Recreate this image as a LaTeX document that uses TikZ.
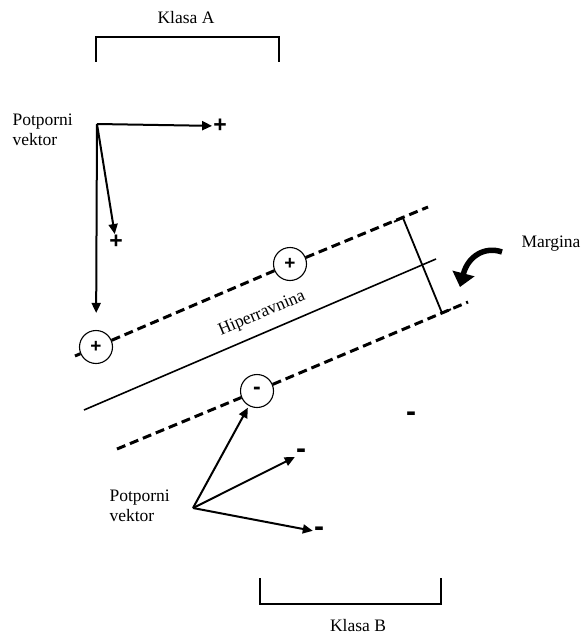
\documentclass[tikz,border=0pt]{standalone}
\usepackage{fontspec}
\setmainfont{Liberation Serif}
\setsansfont{Liberation Sans}
\usepackage{tikz}
\usetikzlibrary{arrows.meta,positioning,calc}

\begin{document}
\begin{tikzpicture}[x=1pt, y=-1pt, every node/.style={font=\fontsize{17.5}{20}\selectfont},
  vec/.style={line width=2pt,-{Triangle[length=10pt,width=9pt]}},
  brk/.style={line width=2pt},
  sv/.style={draw,circle,line width=1.1pt,minimum size=33pt,inner sep=0pt,font=\sffamily\bfseries\fontsize{19}{19}\selectfont},
  pt/.style={inner sep=1pt,font=\sffamily\bfseries\fontsize{23}{23}\selectfont},
  mn/.style={inner sep=1pt,font=\sffamily\bfseries\fontsize{30}{30}\selectfont},
  marg/.style={line width=3pt,dash pattern=on 9pt off 5pt}]
  \useasboundingbox (0,0) rectangle (582,634);

  % klase
  \node (ka) at (186,18) {Klasa A};
  \draw[brk] (96,62) -- (96,37) -- (279,37) -- (279,62);
  \node[anchor=base,inner sep=0pt] (kb) at (358,631) {Klasa B};
  \draw[brk] (260,578) -- (260,604) -- (441,604) -- (441,578);

  % margine i hiperravnina
  \coordinate (ua) at (75,356);
  \coordinate (ub) at (428,207);
  \node[sv] (p1) at (96,347) {+};
  \node[sv] (p2) at (290,264) {+};
  \coordinate (la) at (117,449);
  \coordinate (lb) at (468,302);
  \node[sv,font=\sffamily\bfseries\fontsize{23}{23}\selectfont] (m1) at (257,391) {-};
  \draw[marg] (ua)--(p1); \draw[marg] (p1)--(p2); \draw[marg] (p2)--(ub);
  \draw[marg] (la)--(m1); \draw[marg] (m1)--(lb);
  \coordinate (ha) at (84,410);
  \coordinate (hb) at (436,259);
  \draw[line width=1.6pt] (ha)--(hb);
  \node[rotate=23] (hr) at (262,314) {Hiperravnina};

  % sirina margine
  \coordinate (mt) at (403,218);
  \coordinate (mb) at (442,313);
  \draw[line width=1.8pt] ($(mt)+(-9,3.8)$) -- (mt) -- (mb) -- ($(mb)+(9,-3.8)$);
  \node[anchor=west] (mg) at (518,244) {Margina};
  \coordinate (ma) at (502,252);
  \coordinate (mz) at (460,287);
  \draw[line width=5.5pt,-{Triangle[length=14pt,width=22pt]}]
    (ma) .. controls (485,246) and (468,256) .. (mz);

  % potporni vektori klase A
  \node[anchor=west,align=left] (pa) at (9,130) {Potporni\\vektor};
  \coordinate (o1) at (97,124);
  \node[pt] (q1) at (220,126) {+};
  \node[pt] (q2) at (116,242) {+};
  \draw[vec] (o1)--(q1);
  \draw[vec] (o1)--(q2);
  \draw[vec,shorten >=17pt] (o1)--(p1);

  % potporni vektori klase B
  \node[anchor=west,align=left] (pb) at (106,506) {Potporni\\vektor};
  \coordinate (o2) at (193,508);
  \node[mn] (n1) at (301,454) {-};
  \node[mn] (n2) at (319,532) {-};
  \node[mn] (n3) at (411,417) {-};
  \draw[vec,shorten >=2pt] (o2)--(m1);
  \draw[vec] (o2)--(n1);
  \draw[vec] (o2)--(n2);
\end{tikzpicture}
\end{document}
